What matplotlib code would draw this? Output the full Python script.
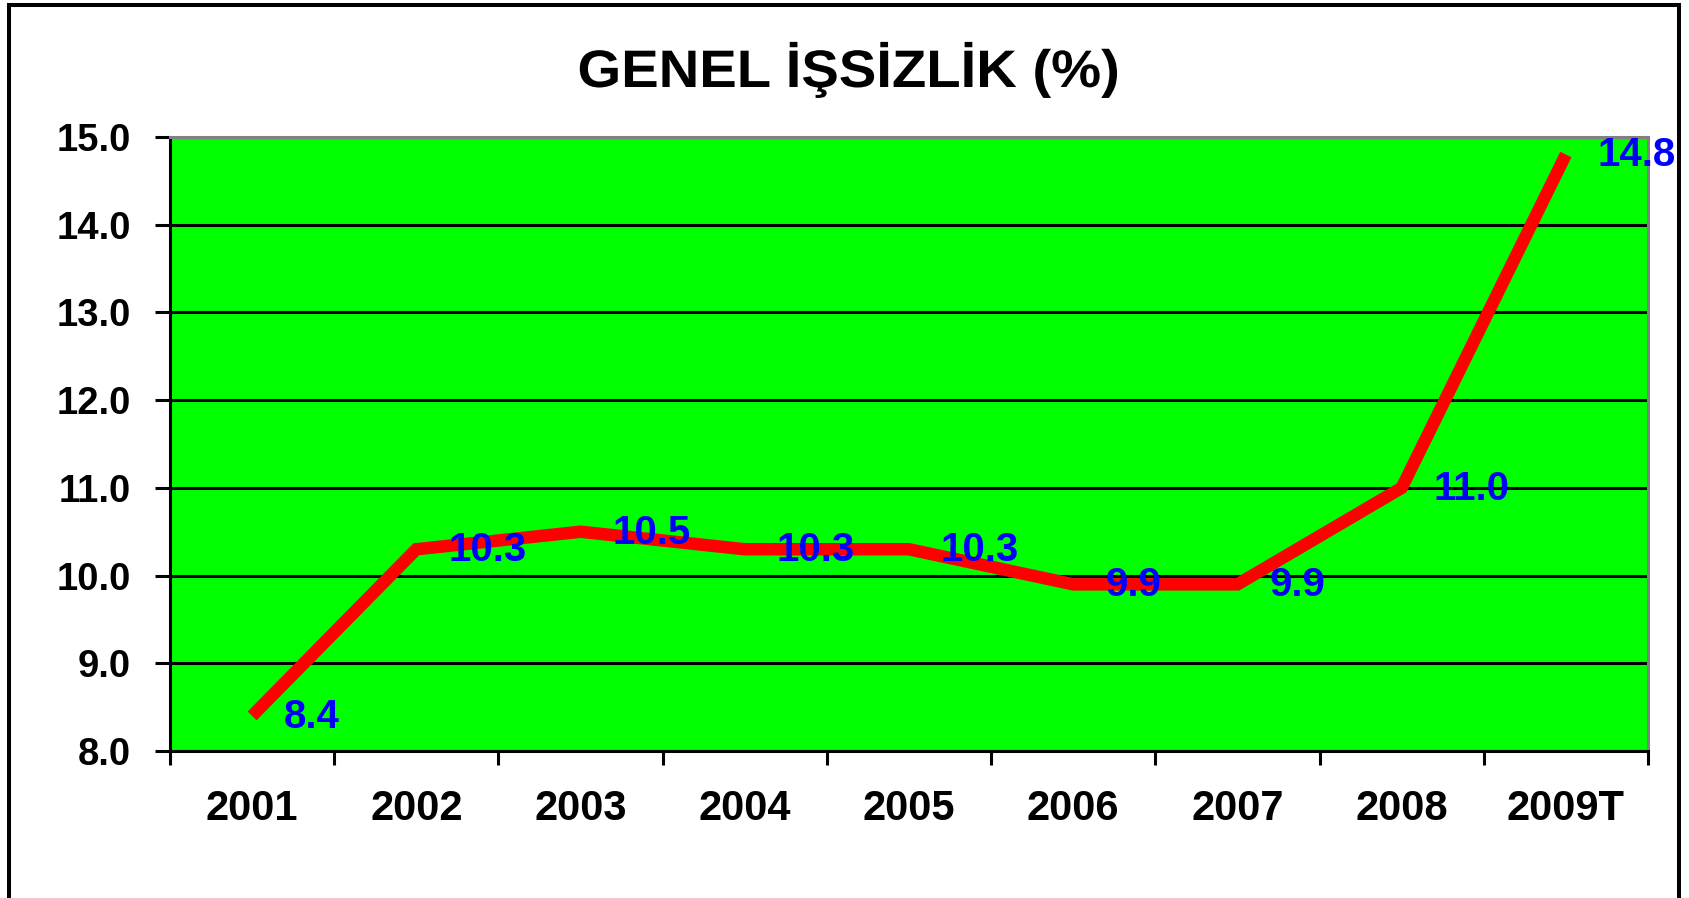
import matplotlib
matplotlib.use("Agg")
import matplotlib.pyplot as plt
from matplotlib.patches import Rectangle
from matplotlib.patheffects import AbstractPathEffect
from matplotlib.transforms import Affine2D

# ---- data ----
years = ["2001", "2002", "2003", "2004", "2005", "2006", "2007", "2008", "2009T"]
unemployment = [8.4, 10.3, 10.5, 10.3, 10.3, 9.9, 9.9, 11.0, 14.8]
value_labels = ["8.4", "10.3", "10.5", "10.3", "10.3", "9.9", "9.9", "11.0", "14.8"]
y_ticks = [8.0, 9.0, 10.0, 11.0, 12.0, 13.0, 14.0, 15.0]
title = "GENEL İŞSİZLİK (%)"

plt.rcParams['font.family'] = ['Liberation Sans', 'DejaVu Sans']

W, H = 1690, 898
fig = plt.figure(figsize=(W / 100, H / 100), dpi=100)
fig.patch.set_facecolor("white")


class StretchX(AbstractPathEffect):
    """Draw the text path stretched horizontally about its centre."""
    def __init__(self, sx):
        super().__init__()
        self.sx = sx

    def draw_path(self, renderer, gc, tpath, affine, rgbFace=None):
        path = affine.transform_path(tpath)
        ext = path.get_extents()
        cx = (ext.x0 + ext.x1) / 2
        t = Affine2D().translate(-cx, 0).scale(self.sx, 1).translate(cx, 0)
        renderer.draw_path(gc, t.transform_path(path), Affine2D(), rgbFace)


# outer frame (bottom edge runs off the canvas)
fig.patches.append(Rectangle((9 / W, -0.05), (1679 - 9) / W, (893 / H) + 0.05,
                             transform=fig.transFigure, fill=False,
                             edgecolor="black", linewidth=2.9, zorder=0))

left, right, top, bottom = 170, 1648, 137, 751
ax = fig.add_axes([left / W, (H - bottom) / H, (right - left) / W, (bottom - top) / H])
ax.set_facecolor("#00FF00")

n = len(years)
centers = [i + 0.5 for i in range(n)]
ax.plot(centers, unemployment, color="#FF0000", linewidth=9,
        solid_capstyle="butt", solid_joinstyle="miter", zorder=3)

for x, v, lab in zip(centers, unemployment, value_labels):
    ax.annotate(lab, (x, v), xytext=(23, -8.5), textcoords="offset points",
                ha="left", va="baseline", color="#0000FF", fontsize=29,
                fontweight="bold", clip_on=False, annotation_clip=False, zorder=4)

ax.set_xlim(0, n)
ax.set_ylim(y_ticks[0], y_ticks[-1])
ax.set_yticks(y_ticks)
ax.set_yticklabels([f"{t:.1f}" for t in y_ticks], fontsize=27.5, fontweight="bold")
ax.yaxis.grid(True, color="black", linewidth=2.2, zorder=1)
ax.set_axisbelow(True)

ax.set_xticks(range(n + 1))
ax.set_xticklabels([])
ax.set_xticks(centers, minor=True)
ax.set_xticklabels(years, minor=True, fontsize=30, fontweight="bold")
ax.tick_params(axis="x", which="major", length=10, width=2.2, direction="out")
ax.tick_params(axis="x", which="minor", length=0, pad=27)
ax.tick_params(axis="y", which="major", length=11, width=2.2, direction="out", pad=17)

for s in ("left", "bottom"):
    ax.spines[s].set_color("black")
    ax.spines[s].set_linewidth(2.2)
for s in ("top", "right"):
    ax.spines[s].set_color("#808080")
    ax.spines[s].set_linewidth(2.2)

t = fig.text(848 / W, (H - 87) / H, title, ha="center", va="baseline",
             fontsize=38, fontweight="bold", color="black")
fig.canvas.draw()
w = t.get_window_extent(fig.canvas.get_renderer()).width
t.set_path_effects([StretchX(541 / w)])

fig.savefig("out.png", dpi=100, facecolor="white")
